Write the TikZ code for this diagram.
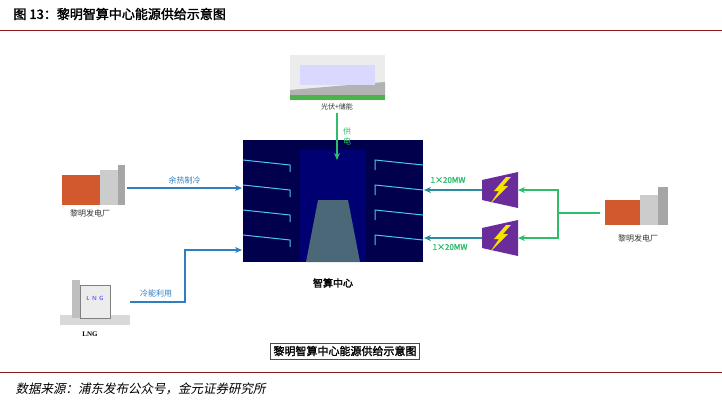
\documentclass[tikz,border=0pt]{standalone}
\usepackage{fontspec}
\newfontfamily\cjk{Noto Sans CJK SC}
\newfontfamily\cjkb[FakeBold=2]{Noto Sans CJK SC}
\newfontfamily\cjki[FakeSlant=0.2]{Noto Sans CJK SC}
\setmainfont{Liberation Serif}
\usetikzlibrary{arrows.meta}
\definecolor{gr}{HTML}{2DBE6C}
\definecolor{bl}{HTML}{2F7FC0}
\definecolor{tl}{HTML}{2A8C9C}
\definecolor{pu}{HTML}{6A2C9A}
\definecolor{ye}{HTML}{F5E400}
\definecolor{dr}{HTML}{8B1A1A}
\tikzset{
 lab/.style={font=\cjk\fontsize{8}{9}\selectfont,text=black!80},
 flab/.style={font=\cjkb\fontsize{8}{9}\selectfont,text=#1},
 garr/.style={draw=gr,line width=1.5pt,-{Stealth[length=7pt,width=6pt]}},
 barr/.style={draw=bl,line width=1.3pt,-{Stealth[length=7pt,width=6pt]}},
 tarr/.style={draw=tl,line width=1.3pt,-{Stealth[length=7pt,width=6pt]}},
 trafo/.style={fill=pu},
}
\begin{document}
\begin{tikzpicture}[x=1pt,y=-1pt]
\useasboundingbox (0,0) rectangle (722,405);
\fill[white] (0,0) rectangle (722,405);
% title
\node[anchor=west,font=\cjkb\fontsize{13}{15}\selectfont] (title) at (10,14) {图 13：黎明智算中心能源供给示意图};
\draw[dr,line width=0.8pt] (0,30) -- (722,30);
\draw[dr,line width=0.6pt] (0,372) -- (722,372);
\node[anchor=west,font=\cjki\fontsize{12.5}{14}\selectfont] (src) at (12,389) {数据来源：浦东发布公众号，金元证券研究所};
% solar
\fill[gray!15] (290,55) rectangle (385,100);
\fill[gray!60] (290,90) -- (385,82) -- (385,100) -- (290,100) -- cycle;
\fill[white!85!blue] (300,65) rectangle (375,85);
\fill[green!40!gray] (290,95) rectangle (385,100);
\coordinate (solar) at (337,100);
\node[lab,font=\cjk\fontsize{7}{8}\selectfont] (solarl) at (337,107) {光伏+储能};
% center
\fill[blue!30!black] (243,140) rectangle (423,262);
\fill[blue!45!black] (300,150) rectangle (366,262);
\fill[cyan!40!black] (318,200) -- (348,200) -- (360,262) -- (306,262) -- cycle;
\foreach \y in {160,185,210,235} {\draw[cyan!70,line width=1pt] (243,\y) -- (290,\y+5) -- (290,\y+12);
 \draw[cyan!70,line width=1pt] (423,\y+5) -- (375,\y) -- (375,\y+10);}
\node[flab=black,font=\cjkb\fontsize{10}{11}\selectfont] (dcl) at (333,283) {智算中心};
% left plant
\fill[brown!70!red] (62,175) rectangle (100,205);
\fill[gray!40] (100,170) rectangle (118,205);
\fill[gray!70] (118,165) rectangle (125,205);
\node[lab] (plantl) at (90,213) {黎明发电厂};
% LNG
\fill[gray!30] (60,315) rectangle (130,325);
\fill[gray!15,draw=gray] (80,285) rectangle (110,318);
\fill[gray!50] (72,280) rectangle (80,318);
\node[font=\sffamily\fontsize{6}{7}\selectfont\bfseries,text=blue!60] at (95,298) {L N G};
\node[font=\fontsize{7}{8}\selectfont\bfseries] (lngl) at (90,334) {LNG};
% right plant
\fill[brown!70!red] (605,200) rectangle (640,225);
\fill[gray!40] (640,195) rectangle (658,225);
\fill[gray!70] (658,187) rectangle (668,225);
\node[lab] (rplantl) at (638,238) {黎明发电厂};
% transformers
\foreach \n/\y in {t1/190,t2/238}{
 \fill[trafo] (482,\y-10) -- (518,\y-18) -- (518,\y+18) -- (482,\y+10) -- cycle;
 \fill[ye] (506,\y-13) -- (494,\y+1) -- (499,\y+1) -- (490,\y+14) -- (508,\y-4) -- (503,\y-4) -- (511,\y-13) -- cycle;
 \coordinate (\n w) at (482,\y); \coordinate (\n e) at (518,\y);
}
% arrows
\draw[garr] (337,113) -- (337,160);
\node[lab,text=gr,align=center,font=\cjk\fontsize{8}{10}\selectfont] at (347,136) {供\\电};
\draw[barr] (127,188) -- (242,188) node[midway,above,lab,text=bl] {余热制冷};
\draw[barr] (130,302) -- (185,302) -- (185,250) -- (242,250);
\node[lab,text=bl] at (156,293) {冷能利用};
\draw[tarr] (t1w) -- (424,190);
\draw[tarr] (t2w) -- (424,238);
\node[flab=gr] at (448,180) {1×20MW};
\node[flab=gr] at (450,247) {1×20MW};
\coordinate (j) at (558,213);
\draw[gr,line width=1.5pt] (600,213) -- (j);
\draw[garr] (558,190) -- (t1e);
\draw[garr] (558,238) -- (t2e);
\draw[gr,line width=1.5pt] (558,189.25) -- (558,238.75);
% bottom box
\node[draw=black!70,line width=0.6pt,inner sep=3pt,font=\cjkb\fontsize{11}{13}\selectfont] (cap) at (345,351) {黎明智算中心能源供给示意图};
\end{tikzpicture}
\end{document}
